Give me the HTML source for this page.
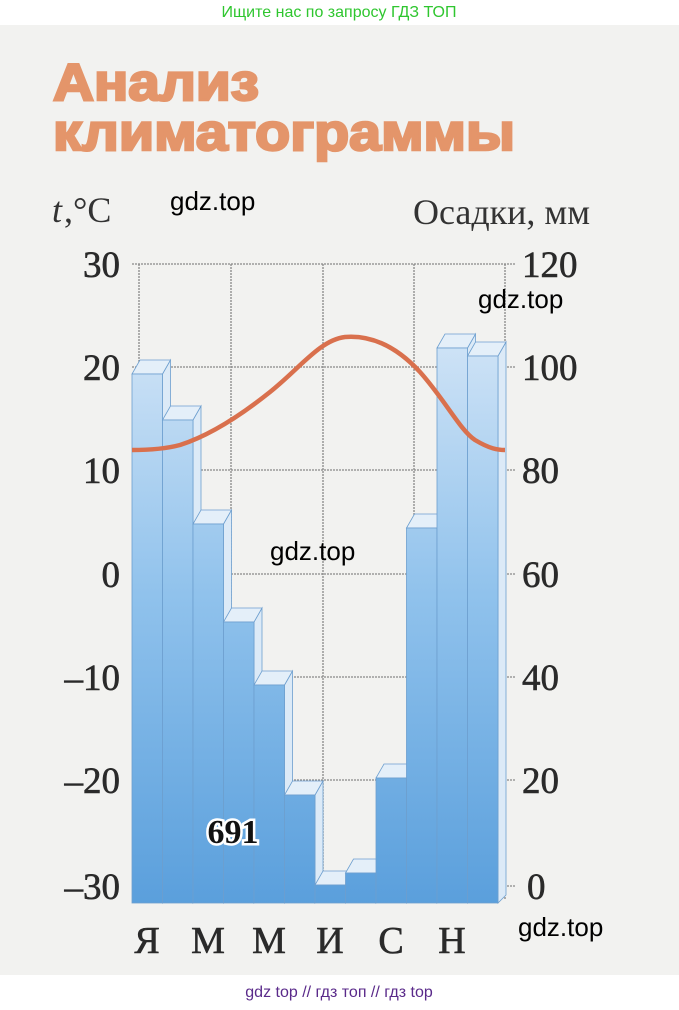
<!DOCTYPE html>
<html><head><meta charset="utf-8"><style>
body{margin:0;width:679px;height:1005px;background:#fff;overflow:hidden;font-family:"Liberation Sans",sans-serif}
</style></head><body>
<svg width="679" height="1005" xmlns="http://www.w3.org/2000/svg">
<defs>
<linearGradient id="g" gradientUnits="userSpaceOnUse" x1="0" y1="340" x2="0" y2="905">
<stop offset="0" stop-color="#cfe3f6"/><stop offset="0.45" stop-color="#90c2ec"/><stop offset="1" stop-color="#5a9fdc"/></linearGradient>
</defs>
<rect x="0" y="25" width="679" height="950" fill="#f2f2f0"/>
<text x="339" y="17" font-size="16" fill="#2fc62f" text-anchor="middle">Ищите нас по запросу ГДЗ ТОП</text>
<g font-family="'Liberation Sans',sans-serif" font-weight="bold" font-size="52" fill="#e4956a" stroke="#e4956a" stroke-width="2.5">
<text x="53" y="100" textLength="206" lengthAdjust="spacingAndGlyphs">Анализ</text>
<text x="53" y="150" textLength="462" lengthAdjust="spacingAndGlyphs">климатограммы</text>
</g>
<g font-family="'Liberation Serif',serif" font-size="36" fill="#333">
<text x="52" y="222" font-style="italic">t</text><text x="64" y="222">,°C</text>
<text x="590" y="224" text-anchor="end">Осадки, мм</text>
</g>
<text x="170" y="210" font-size="26" fill="#000">gdz.top</text>
<g stroke="#888" stroke-width="1.3" stroke-dasharray="2,1">
<line x1="132" y1="264" x2="515" y2="264"/><line x1="132" y1="367" x2="515" y2="367"/>
<line x1="132" y1="470" x2="515" y2="470"/><line x1="132" y1="574" x2="515" y2="574"/>
<line x1="132" y1="677" x2="515" y2="677"/><line x1="132" y1="780" x2="515" y2="780"/>
<line x1="132" y1="886" x2="515" y2="886"/>
<line x1="139" y1="264" x2="139" y2="900"/><line x1="231" y1="264" x2="231" y2="900"/>
<line x1="323" y1="264" x2="323" y2="900"/><line x1="414" y1="264" x2="414" y2="900"/>
<line x1="505" y1="264" x2="505" y2="900"/>
</g>
<g stroke="#6d9fcf" stroke-width="0.8">
<polygon points="162.5,374 170.5,360 170.5,895 162.5,903" fill="#dceaf7"/><polygon points="132,374 140,360 170.5,360 162.5,374" fill="#e4eff9"/><rect x="132" y="374" width="30.5" height="529" fill="url(#g)"/>
<polygon points="193,420 201,406 201,895 193,903" fill="#dceaf7"/><polygon points="162.5,420 170.5,406 201,406 193,420" fill="#e4eff9"/><rect x="162.5" y="420" width="30.5" height="483" fill="url(#g)"/>
<polygon points="223.5,524 231.5,510 231.5,895 223.5,903" fill="#dceaf7"/><polygon points="193,524 201,510 231.5,510 223.5,524" fill="#e4eff9"/><rect x="193" y="524" width="30.5" height="379" fill="url(#g)"/>
<polygon points="254,622 262,608 262,895 254,903" fill="#dceaf7"/><polygon points="223.5,622 231.5,608 262,608 254,622" fill="#e4eff9"/><rect x="223.5" y="622" width="30.5" height="281" fill="url(#g)"/>
<polygon points="284.5,685 292.5,671 292.5,895 284.5,903" fill="#dceaf7"/><polygon points="254,685 262,671 292.5,671 284.5,685" fill="#e4eff9"/><rect x="254" y="685" width="30.5" height="218" fill="url(#g)"/>
<polygon points="315,795 323,781 323,895 315,903" fill="#dceaf7"/><polygon points="284.5,795 292.5,781 323,781 315,795" fill="#e4eff9"/><rect x="284.5" y="795" width="30.5" height="108" fill="url(#g)"/>
<polygon points="345.5,885 353.5,871 353.5,895 345.5,903" fill="#dceaf7"/><polygon points="315,885 323,871 353.5,871 345.5,885" fill="#e4eff9"/><rect x="315" y="885" width="30.5" height="18" fill="url(#g)"/>
<polygon points="376,873 384,859 384,895 376,903" fill="#dceaf7"/><polygon points="345.5,873 353.5,859 384,859 376,873" fill="#e4eff9"/><rect x="345.5" y="873" width="30.5" height="30" fill="url(#g)"/>
<polygon points="406.5,778 414.5,764 414.5,895 406.5,903" fill="#dceaf7"/><polygon points="376,778 384,764 414.5,764 406.5,778" fill="#e4eff9"/><rect x="376" y="778" width="30.5" height="125" fill="url(#g)"/>
<polygon points="437,528 445,514 445,895 437,903" fill="#dceaf7"/><polygon points="406.5,528 414.5,514 445,514 437,528" fill="#e4eff9"/><rect x="406.5" y="528" width="30.5" height="375" fill="url(#g)"/>
<polygon points="467.5,348 475.5,334 475.5,895 467.5,903" fill="#dceaf7"/><polygon points="437,348 445,334 475.5,334 467.5,348" fill="#e4eff9"/><rect x="437" y="348" width="30.5" height="555" fill="url(#g)"/>
<polygon points="498,356 506,342 506,895 498,903" fill="#dceaf7"/><polygon points="467.5,356 475.5,342 506,342 498,356" fill="#e4eff9"/><rect x="467.5" y="356" width="30.5" height="547" fill="url(#g)"/>
</g>
<path d="M132,450 C150,450 165,449 180,445 C205,437 235,420 270,392 C300,368 320,340 345,337 C370,335 395,345 420,372 C445,400 460,430 475,440 C490,449 498,450 505,450" fill="none" stroke="#d9704d" stroke-width="4.5"/>
<g font-family="'Liberation Serif',serif" font-size="37" fill="#2a2a2a" stroke="#2a2a2a" stroke-width="0.6">
<g text-anchor="end">
<text x="120" y="277">30</text><text x="120" y="380">20</text><text x="120" y="483">10</text>
<text x="120" y="587">0</text><text x="120" y="690">–10</text><text x="120" y="793">–20</text><text x="120" y="899">–30</text>
</g>
<text x="522" y="277">120</text><text x="522" y="380">100</text><text x="522" y="483">80</text>
<text x="522" y="587">60</text><text x="522" y="690">40</text><text x="522" y="793">20</text><text x="527" y="899">0</text>
<g text-anchor="middle" font-size="38">
<text x="147" y="953">Я</text><text x="208" y="953">М</text><text x="269" y="953">М</text>
<text x="330" y="953">И</text><text x="391" y="953">С</text><text x="452" y="953">Н</text>
</g>
</g>
<text x="233" y="843" text-anchor="middle" font-family="'Liberation Serif',serif" font-size="34" font-weight="bold" fill="#111" stroke="#fff" stroke-width="5" paint-order="stroke">691</text>
<g font-size="26" fill="#000">
<text x="478" y="308">gdz.top</text>
<text x="270" y="560">gdz.top</text>
<text x="518" y="936">gdz.top</text>
</g>
<text x="339" y="997" font-size="16" fill="#5a2a8a" text-anchor="middle">gdz top  //  гдз топ  //  гдз top</text>
</svg>
</body></html>
